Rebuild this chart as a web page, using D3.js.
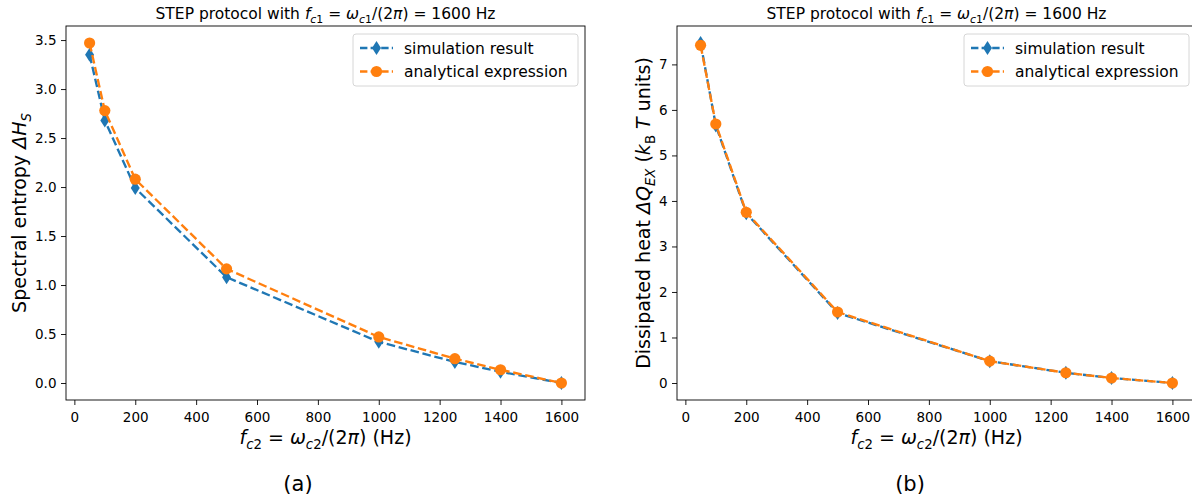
<!DOCTYPE html>
<html><head><meta charset="utf-8">
<script src="https://cdn.jsdelivr.net/npm/d3@7"></script>
<style>body{margin:0;background:#fff} svg{display:block} text{font-family:"DejaVu Sans";fill:#000}</style>
</head><body><svg id="c" width="1192" height="496"></svg>
<script>
// ---- data ----
const freqs = [50, 100, 200, 500, 1000, 1250, 1400, 1600];
const entropySim = [3.35, 2.68, 1.99, 1.08, 0.42, 0.215, 0.115, 0.0];
const entropyAna = [3.47, 2.78, 2.08, 1.165, 0.47, 0.248, 0.135, 0.0];
const heatSim = [7.47, 5.66, 3.73, 1.54, 0.48, 0.225, 0.11, 0.0];
const heatAna = [7.42, 5.69, 3.75, 1.56, 0.48, 0.225, 0.11, 0.0];
const xTicks = [0, 200, 400, 600, 800, 1000, 1200, 1400, 1600];
const yTicksA = [0.0, 0.5, 1.0, 1.5, 2.0, 2.5, 3.0, 3.5];
const yTicksB = [0, 1, 2, 3, 4, 5, 6, 7];
const seriesNames = ["simulation result", "analytical expression"];
const captions = ["(a)", "(b)"];

const C_BLUE = "#1f77b4", C_ORANGE = "#ff7f0e";
const svg = d3.select("#c");

function rich(sel, parts, size) {
  let off = 0;
  parts.forEach(([t, s]) => {
    s = s || "";
    const sub = s.includes("s"), ital = s.includes("i");
    const target = sub ? size * 0.28 : 0;
    const ts = sel.append("tspan").text(t)
      .attr("font-size", sub ? size * 0.7 : size)
      .attr("font-style", ital ? "italic" : "normal");
    if (target !== off) { ts.attr("dy", target - off); off = target; }
  });
}

const titleParts = [["STEP protocol with "], ["f", "i"], ["c", "si"], ["1", "s"], [" = "], ["ω", "i"], ["c", "si"], ["1", "s"], ["/(2"], ["π", "i"], [") = 1600 Hz"]];
const xLabelParts = [["f", "i"], ["c", "si"], ["2", "s"], [" = "], ["ω", "i"], ["c", "si"], ["2", "s"], ["/(2"], ["π", "i"], [") (Hz)"]];
const yLabelA = [["Spectral entropy "], ["ΔH", "i"], ["S", "si"]];
const yLabelB = [["Dissipated heat "], ["ΔQ", "i"], ["EX", "si"], [" ("], ["k", "i"], ["B", "s"], [" "], ["T", "i"], [" units)"]];

function panel(cfg) {
  const { left, right, top, bottom, yDomain, yTicks, yFmt, sim, ana, yLabel, ylabelX, caption, capX } = cfg;
  const x = d3.scaleLinear().domain([-27.5, 1677.5]).range([left, right]);
  const y = d3.scaleLinear().domain(yDomain).range([bottom, top]);
  const g = svg.append("g");

  const xa = g.append("g").attr("transform", `translate(0,${bottom})`)
    .call(d3.axisBottom(x).tickValues(xTicks).tickFormat(d3.format("d")).tickSize(5).tickPadding(7));
  const ya = g.append("g").attr("transform", `translate(${left},0)`)
    .call(d3.axisLeft(y).tickValues(yTicks).tickFormat(yFmt).tickSize(5).tickPadding(4.5));
  [xa, ya].forEach(a => {
    a.select(".domain").remove();
    a.selectAll("text").attr("font-size", 13.5).attr("font-family", "DejaVu Sans").attr("fill", "#000");
    a.selectAll("line").attr("stroke", "#000").attr("stroke-width", 0.9);
  });

  const line = d3.line().x((d, i) => x(freqs[i])).y(d => y(d));
  const dash = "8.6,3.7";
  const lwid = 2.35;
  g.append("path").datum(sim).attr("d", line).attr("fill", "none")
    .attr("stroke", C_BLUE).attr("stroke-width", lwid).attr("stroke-dasharray", dash);
  const diamond = (cx, cy) => `M${cx},${cy - 7}L${cx + 4.5},${cy}L${cx},${cy + 7}L${cx - 4.5},${cy}Z`;
  g.selectAll(".dm").data(sim).enter().append("path")
    .attr("d", (d, i) => diamond(x(freqs[i]), y(d))).attr("fill", C_BLUE);
  g.append("path").datum(ana).attr("d", line).attr("fill", "none")
    .attr("stroke", C_ORANGE).attr("stroke-width", lwid).attr("stroke-dasharray", dash);
  g.selectAll(".ci").data(ana).enter().append("circle")
    .attr("cx", (d, i) => x(freqs[i])).attr("cy", d => y(d)).attr("r", 5.6).attr("fill", C_ORANGE);

  // frame
  g.append("rect").attr("x", left).attr("y", top).attr("width", right - left).attr("height", bottom - top)
    .attr("fill", "none").attr("stroke", "#000").attr("stroke-width", 0.9);

  // legend
  const lw = 225, lh = 52, lx = right - 7 - lw, ly = top + 8;
  const lg = g.append("g");
  lg.append("rect").attr("x", lx).attr("y", ly).attr("width", lw).attr("height", lh).attr("rx", 3)
    .attr("fill", "#fff").attr("fill-opacity", 0.8).attr("stroke", "#d6d6d6").attr("stroke-width", 1);
  seriesNames.forEach((n, i) => {
    const cy = ly + 14 + i * 23.5;
    const col = i === 0 ? C_BLUE : C_ORANGE;
    lg.append("line").attr("x1", lx + 7).attr("x2", lx + 40).attr("y1", cy).attr("y2", cy)
      .attr("stroke", col).attr("stroke-width", lwid).attr("stroke-dasharray", "7.4,3.2");
    if (i === 0) lg.append("path").attr("d", diamond(lx + 23.5, cy)).attr("fill", col);
    else lg.append("circle").attr("cx", lx + 23.5).attr("cy", cy).attr("r", 5.6).attr("fill", col);
    lg.append("text").attr("x", lx + 51).attr("y", cy + 5.5).attr("font-size", 15.5).text(n);
  });

  const cx = (left + right) / 2;
  const t = g.append("text").attr("x", cx).attr("y", 18.5).attr("text-anchor", "middle");
  rich(t, titleParts, 15.5);
  const xl = g.append("text").attr("x", cx).attr("y", 444).attr("text-anchor", "middle");
  rich(xl, xLabelParts, 19);
  const yl = g.append("text").attr("transform", `translate(${ylabelX},${(top + bottom) / 2}) rotate(-90)`)
    .attr("text-anchor", "middle");
  rich(yl, yLabel, 19);
  g.append("text").attr("x", capX).attr("y", 491).attr("text-anchor", "middle")
    .attr("font-family", "Liberation Serif").attr("font-size", 21).text(caption);
}

panel({ left: 66, right: 585, top: 26, bottom: 400, yDomain: [-0.1735, 3.6435], yTicks: yTicksA,
  yFmt: d3.format(".1f"), sim: entropySim, ana: entropyAna, yLabel: yLabelA, ylabelX: 26, caption: captions[0], capX: 298 });
panel({ left: 677, right: 1196, top: 26, bottom: 400, yDomain: [-0.3735, 7.8435], yTicks: yTicksB,
  yFmt: d3.format("d"), sim: heatSim, ana: heatAna, yLabel: yLabelB, ylabelX: 650, caption: captions[1], capX: 910 });
</script></body></html>
